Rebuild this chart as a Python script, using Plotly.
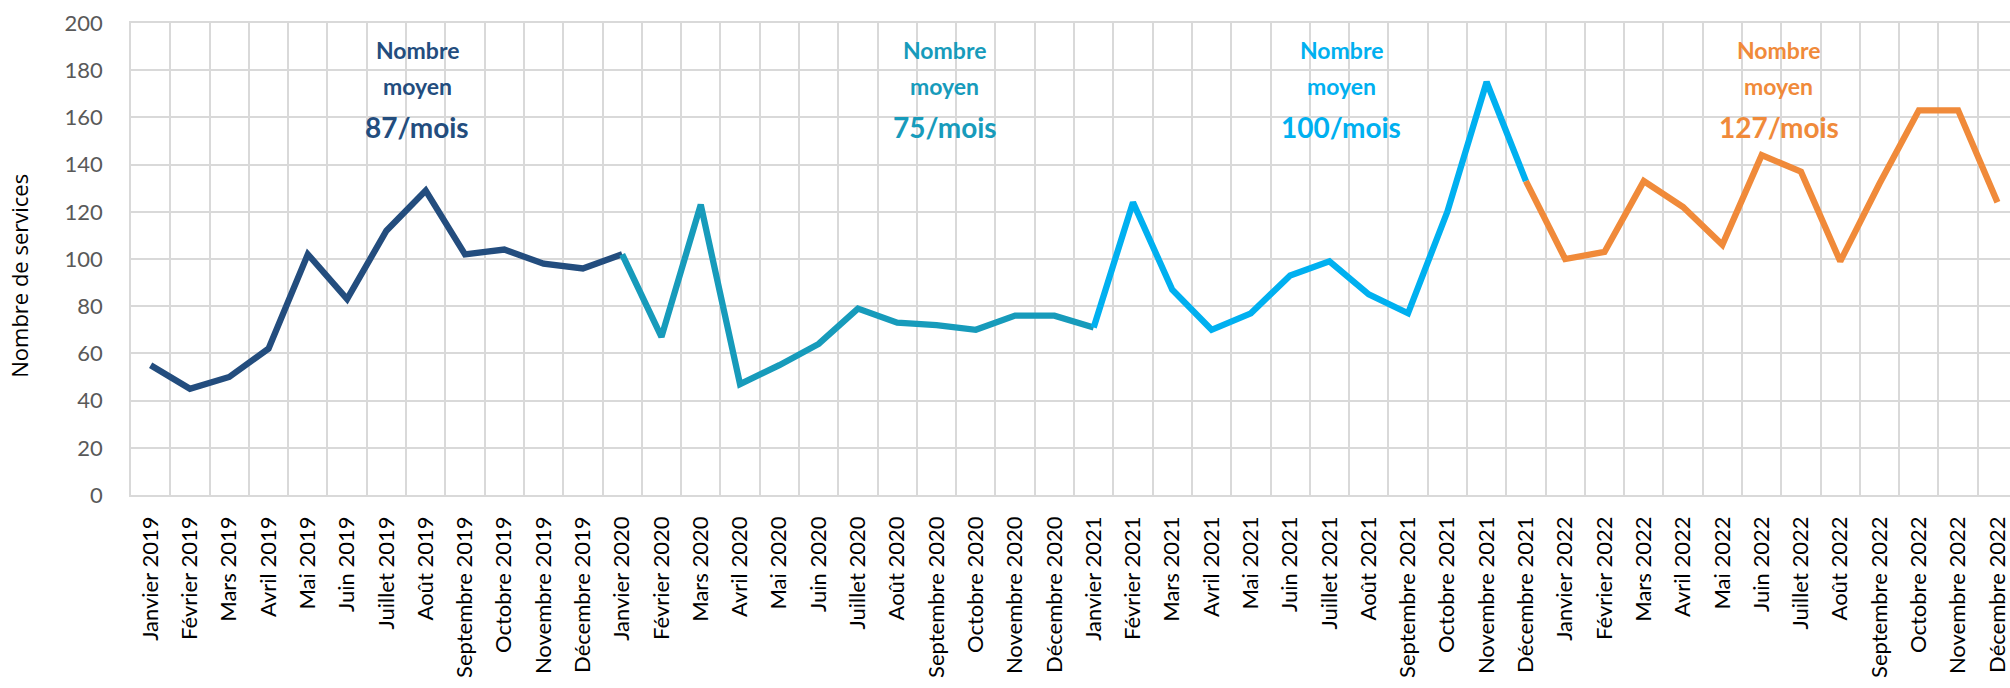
import plotly.graph_objects as go

months = ["Janvier", "Février", "Mars", "Avril", "Mai", "Juin", "Juillet", "Août",
          "Septembre", "Octobre", "Novembre", "Décembre"]
years = [2019, 2020, 2021, 2022]

v2019 = [55, 45, 50, 62, 102, 83, 112, 129, 102, 104, 98, 96]
v2020 = [102, 67, 123, 47, 55, 64, 79, 73, 72, 70, 76, 76]
v2021 = [71, 124, 87, 70, 77, 93, 99, 85, 77, 120, 175, 133]
v2022 = [100, 103, 133, 122, 106, 144, 137, 99, 132, 163, 163, 124]

averages = ["87/mois", "75/mois", "100/mois", "127/mois"]
colors = ["#234D7E", "#179BBB", "#00B0F0", "#F08A3A"]

categories = [f"{m} {y}" for y in years for m in months]
values = v2019 + v2020 + v2021 + v2022

# segment index ranges (inclusive) as coloured in the reference
segments = [(0, 12), (12, 24), (24, 35), (35, 47)]

fig = go.Figure()
for (a, b), col in zip(segments, colors):
    fig.add_trace(go.Scatter(
        x=categories[a:b + 1], y=values[a:b + 1], mode="lines",
        line=dict(color=col, width=6.3), hoverinfo="skip", showlegend=False))

label_x = [6.78, 20.21, 30.3, 41.43]
for xi, avg, col in zip(label_x, averages, colors):
    fig.add_annotation(x=xi, y=188.6, text="<b>Nombre</b>", showarrow=False,
                       font=dict(family="Lato", size=23, color=col), yanchor="middle")
    fig.add_annotation(x=xi, y=173.3, text="<b>moyen</b>", showarrow=False,
                       font=dict(family="Lato", size=23, color=col), yanchor="middle")
    fig.add_annotation(x=xi, y=155.9, text=f"<b>{avg}</b>", showarrow=False,
                       font=dict(family="Lato", size=28, color=col), yanchor="middle")

fig.add_annotation(xref="paper", yref="paper", x=-0.060, y=0.465,
                   text="Nombre de services", textangle=-90, showarrow=False,
                   font=dict(family="Open Sans", size=22, color="#000000"),
                   xanchor="center", yanchor="middle")

grid = "#D9D9D9"
fig.update_layout(
    width=2010, height=688,
    margin=dict(l=131, r=0, t=23, b=193, autoexpand=False),
    paper_bgcolor="white", plot_bgcolor="white",
    xaxis=dict(type="category", categoryorder="array", categoryarray=categories,
               range=[-0.5, 47.32], tickson="boundaries", showgrid=True,
               gridcolor=grid, gridwidth=1.5, ticks="", tickangle=-90,
               showline=True, linecolor=grid, linewidth=1.5, mirror=True,
               automargin=False,
               tickfont=dict(family="Lato", size=22, color="#000000"),
               ticklabelstandoff=11),
    yaxis=dict(range=[0, 200], dtick=20, showgrid=True, gridcolor=grid,
               gridwidth=1.5, zeroline=False, ticks="", automargin=False,
               showline=True, linecolor=grid, linewidth=1.5, mirror=True,
               tickfont=dict(family="Lato", size=22, color="#595959"),
               ticklabelstandoff=22),
)

fig.write_html("out.html",
               config={"displayModeBar": False},
               post_script="document.body.style.margin='0px';"
                           "document.body.style.overflow='hidden';")
